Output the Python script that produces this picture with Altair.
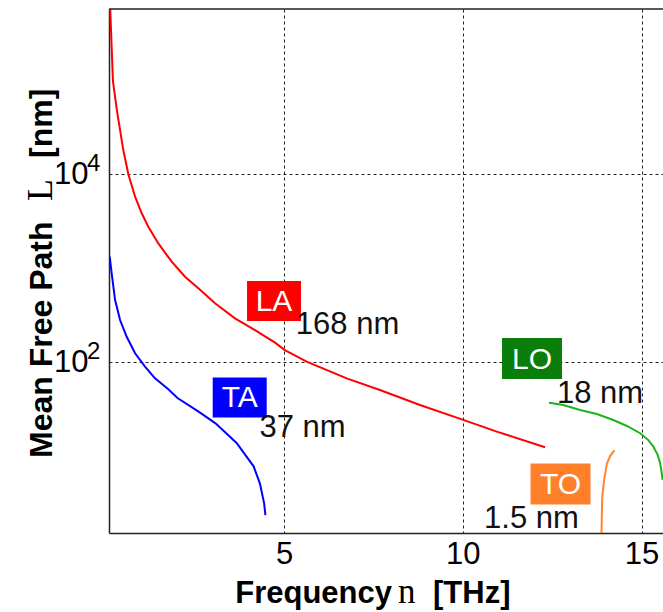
import altair as alt
import pandas as pd

# ---- data (frequency in THz, mean free path in nm) ----
la_freq = [0.13, 0.21, 0.32, 0.50, 0.64, 0.83, 1.015, 1.20, 1.48, 1.854, 2.226, 2.60,
           3.066, 3.625, 4.185, 4.745, 5.02, 5.63, 6.75, 7.68, 8.80, 9.97, 10.95, 12.30]
la_mfp = [630000, 97700, 47900, 18000, 10000, 5740, 3830, 2750, 1830, 1170, 809, 610,
          422, 292, 219, 161, 134, 101, 67.1, 50.5, 34.9, 24.6, 18.2, 12.4]

ta_freq = [0.12, 0.175, 0.27, 0.41, 0.595, 0.83, 1.107, 1.387, 1.76, 2.017, 2.607,
           3.08, 3.67, 4.146, 4.325, 4.44, 4.476]
ta_mfp = [1320, 879, 457, 280, 186, 124, 89.3, 67.1, 51.3, 41.5, 29.7, 22.3, 13.8,
          7.78, 5.07, 3.14, 2.36]

lo_freq = [12.41, 12.81, 13.28, 13.75, 14.21, 14.59, 14.96, 15.19, 15.33, 15.45,
           15.52, 15.56, 15.59]
lo_mfp = [37.0, 34.9, 30.9, 28.0, 24.2, 20.9, 17.5, 14.8, 12.6, 10.3, 8.4, 6.8, 5.6]

to_freq = [13.86, 13.88, 13.89, 13.90, 13.95, 14.03, 14.12, 14.24]
to_mfp = [1.3, 1.5, 2.5, 3.6, 5.5, 8.3, 10.0, 11.5]

branches = ["LA", "TA", "LO", "TO"]
line_colors = ["#ff0000", "#0000ff", "#1db31d", "#ff8533"]
box_colors = ["#ff0000", "#0000ff", "#0a7d0a", "#ff7f2a"]

# label boxes and mean values
box_freq = [4.717, 3.757, 11.935, 12.733]
box_mfp = [446, 42.0, 109, 5.05]
mean_text = ["168 nm", "37 nm", "18 nm", "1.5 nm"]
mean_freq = [6.773, 5.514, 13.838, 11.921]
mean_mfp = [199.4, 15.84, 37.0, 1.704]

x_ticks = [5, 10, 15]
y_ticks = [100, 10000]
y_exps = ["2", "4"]

# ---- tables ----
rows = []
for name, fr, mf in [("LA", la_freq, la_mfp), ("TA", ta_freq, ta_mfp),
                     ("LO", lo_freq, lo_mfp), ("TO", to_freq, to_mfp)]:
    for i, (f, m) in enumerate(zip(fr, mf)):
        rows.append({"branch": name, "freq": f, "mfp": m, "i": i})
curves = pd.DataFrame(rows)

boxes = pd.DataFrame({"label": branches, "freq": box_freq, "mfp": box_mfp})
means = pd.DataFrame({"label": mean_text, "freq": mean_freq, "mfp": mean_mfp})
exps = pd.DataFrame({"mfp": y_ticks, "e": y_exps})

SANS = "Liberation Sans"
SERIF = "Liberation Serif"
W, H = 554, 524

xs = alt.Scale(domain=[0.1, 15.6], nice=False, zero=False)
ys = alt.Scale(type="log", domain=[1.52, 570000], nice=False)

x_enc = alt.X("freq:Q", scale=xs, axis=alt.Axis(
    values=x_ticks, title=None, ticks=False, tickSize=0, labelFont=SANS,
    labelFontSize=31, labelColor="black", labelPadding=6, labelFlush=False,
    domainColor="#222", domainWidth=1.5, grid=True, gridColor="#222",
    gridDash=[3, 3], gridWidth=1))
y_enc = alt.Y("mfp:Q", scale=ys, axis=alt.Axis(
    values=y_ticks, labelExpr="'10'", title=None, ticks=False, tickSize=0,
    labelFont=SANS, labelFontSize=31, labelColor="black", labelPadding=21,
    labelFlush=False, domainColor="#222", domainWidth=1.5, grid=True,
    gridColor="#222", gridDash=[3, 3], gridWidth=1))

lines = alt.Chart(curves).mark_line(strokeWidth=2, clip=True).encode(
    x=x_enc, y=y_enc,
    color=alt.Color("branch:N", scale=alt.Scale(domain=branches, range=line_colors),
                    legend=None),
    order=alt.Order("i:Q"))

def box_layer(labels, w, h):
    d = boxes[boxes["label"].isin(labels)]
    a = h / w
    path = f"M-1,-{a:.3f}L1,-{a:.3f}L1,{a:.3f}L-1,{a:.3f}Z"
    return alt.Chart(d).mark_point(shape=path, filled=True, opacity=1,
                                   strokeWidth=0, size=w * w).encode(
        x=x_enc, y=y_enc,
        fill=alt.Fill("label:N", scale=alt.Scale(domain=branches, range=box_colors),
                      legend=None))

box_ac = box_layer(["LA", "TA"], 54, 40)
box_op = box_layer(["LO", "TO"], 60, 41)

box_txt = alt.Chart(boxes).mark_text(font=SANS, fontSize=30, color="white",
                                     align="center", baseline="middle", dy=1).encode(
    x=x_enc, y=y_enc, text="label:N")

mean_txt = alt.Chart(means).mark_text(font=SANS, fontSize=31, color="#111",
                                      align="center", baseline="alphabetic").encode(
    x=x_enc, y=y_enc, text="label:N")

sup = alt.Chart(exps).mark_text(font=SANS, fontSize=24, color="black",
                                align="left", baseline="middle", dy=-10).encode(
    y=y_enc, x=alt.value(-22), text="e:N")

one = alt.Data(values=[{}])
top_rule = alt.Chart(one).mark_rule(color="#222", strokeWidth=1.5).encode(
    x=alt.value(0), x2=alt.value(W), y=alt.value(0))

def txt(s, x, y, font, weight, align, angle=0, size=30):
    kw = dict(font=font, fontSize=size, fontWeight=weight, color="black",
              align=align, baseline="alphabetic", text=s)
    if angle:
        kw["angle"] = angle
    return alt.Chart(one).mark_text(**kw).encode(x=alt.value(x), y=alt.value(y))

xt1 = txt("Frequency", 283, 594, SANS, "bold", "right", size=31)
xt2 = txt("n", 289, 594, SERIF, "normal", "left", size=35)
xt3 = txt("[THz]", 324, 594, SANS, "bold", "left", size=31)
yt1 = txt("Mean Free Path", -57, 458 - 9, SANS, "bold", "left", 270, 32)
yt2 = txt("L", -57, 201 - 9, SERIF, "normal", "left", 270, 36)
yt3 = txt("[nm]", -57, 158 - 9, SANS, "bold", "left", 270, 32)

chart = alt.layer(
    lines, box_ac, box_op, box_txt, mean_txt, sup, top_rule,
    xt1, xt2, xt3, yt1, yt2, yt3
).properties(
    width=W, height=H,
    autosize=alt.AutoSizeParams(type="none"),
    padding={"left": 109, "top": 9, "right": 0, "bottom": 79},
    background="white",
).configure_view(stroke=None)

chart.save("out.html", embed_options={"renderer": "svg", "actions": False})
